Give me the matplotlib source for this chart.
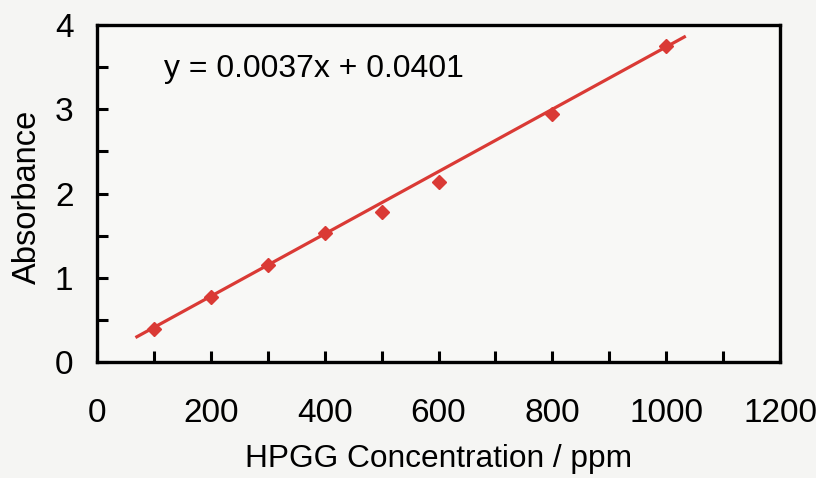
import numpy as np
import matplotlib.pyplot as plt
from matplotlib.ticker import MultipleLocator

plt.rcParams['font.family'] = ['Liberation Sans', 'DejaVu Sans']

# calibration data
conc = [100, 200, 300, 400, 500, 600, 800, 1000]
absorb = [0.39, 0.77, 1.15, 1.53, 1.78, 2.14, 2.94, 3.75]
slope = 0.0037
intercept = 0.0401
fit_range = [70, 1032]

red = '#da3a35'

fig = plt.figure(figsize=(8.16, 4.78), dpi=100)
fig.patch.set_facecolor('#f5f5f3')
ax = fig.add_axes([97 / 816, 1 - 362 / 478, 683 / 816, 337 / 478])
ax.set_facecolor('#f8f8f6')

xf = np.array(fit_range)
ax.plot(xf, slope * xf + intercept, color=red, lw=2.3)
ax.plot(conc, absorb, linestyle='none', marker='D', ms=7.5, color=red)

ax.set_xlim(0, 1200)
ax.set_ylim(0, 4)
ax.xaxis.set_major_locator(MultipleLocator(200))
ax.xaxis.set_minor_locator(MultipleLocator(100))
ax.yaxis.set_major_locator(MultipleLocator(1))
ax.yaxis.set_minor_locator(MultipleLocator(0.5))
ax.tick_params(which='both', direction='in', length=8, width=2.2, color='black')
ax.tick_params(axis='x', which='major', labelsize=24, pad=26)
ax.tick_params(axis='y', which='major', labelsize=24, pad=17)
for s in ax.spines.values():
    s.set_linewidth(2.4)

ax.set_xlabel('HPGG Concentration / ppm', fontsize=22.8)
ax.xaxis.set_label_coords(0.5, -0.311)
ax.xaxis.label.set_va('baseline')
ax.set_ylabel('Absorbance', fontsize=23.5)
ax.yaxis.set_label_coords(-0.1025, 0.49)
ax.yaxis.label.set_va('center')
ax.text(118, 3.38, 'y = 0.0037x + 0.0401', fontsize=23,
        va='baseline', ha='left')

fig.savefig('out.png', dpi=100, facecolor=fig.get_facecolor())
